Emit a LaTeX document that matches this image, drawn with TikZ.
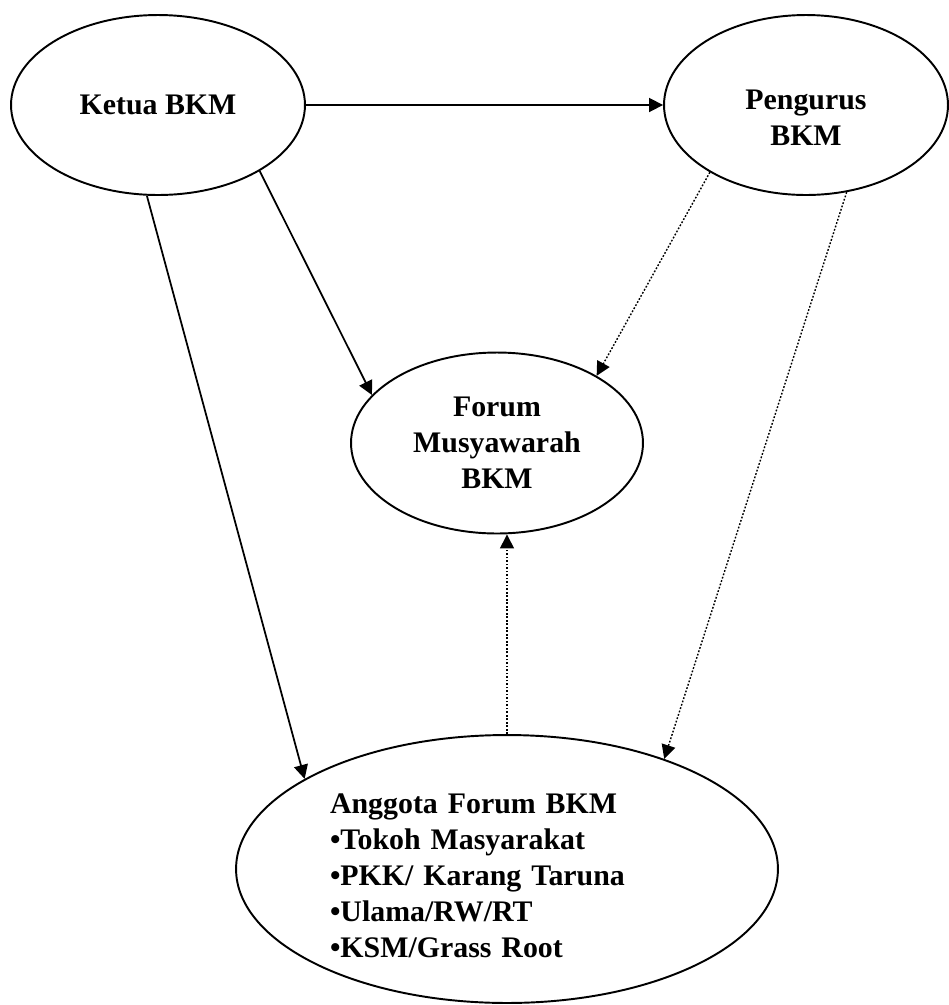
\documentclass[tikz,border=0pt]{standalone}
\usepackage{fontspec}
\setmainfont{Liberation Serif}
\usetikzlibrary{shapes.geometric,arrows.meta}

\begin{document}
\begin{tikzpicture}[x=0.02cm, y=-0.02cm,
  bubble/.style={draw, ellipse, line width=1.1pt, inner sep=0pt, align=center,
    font=\fontsize{17}{20.5}\selectfont\bfseries},
  arr/.style={-{Triangle[length=0.28cm,width=0.28cm]}, line width=1pt},
  dotarr/.style={arr, densely dotted, line width=0.8pt}]
\useasboundingbox (0,0) rectangle (949,1005);
\node[bubble, minimum width=5.88cm, minimum height=3.6cm] (ketua) at (158,105) {Ketua BKM};
\node[bubble, minimum width=5.68cm, minimum height=3.6cm] (pengurus) at (806,105) {\rule{0pt}{26pt}Pengurus\\BKM};
\node[bubble, minimum width=5.84cm, minimum height=3.62cm] (forum) at (497,443) {Forum\\Musyawarah\\BKM};
\node[bubble, minimum width=10.84cm, minimum height=5.36cm, text width=7.08cm, align=left] (anggota) at (507,869)
  {\rule{0pt}{19pt}Anggota Forum BKM\\\textbullet Tokoh Masyarakat\\\textbullet PKK/ Karang Taruna\\\textbullet Ulama/RW/RT\\\textbullet KSM/Grass Root};
% solid links from the chairman
\draw[arr] (ketua.east) -- (pengurus.west);
\draw[arr] (ketua.-33.6) -- (forum.159);
\draw[arr] (ketua.-97) -- (anggota.156);
% dotted links
\draw[dotarr] (pengurus.215.5) -- (forum.34);
\draw[dotarr] (pengurus.-65) -- (anggota.35);
\draw[dotarr] (anggota.north) -- (anggota.north |- forum.south);
\end{tikzpicture}
\end{document}
